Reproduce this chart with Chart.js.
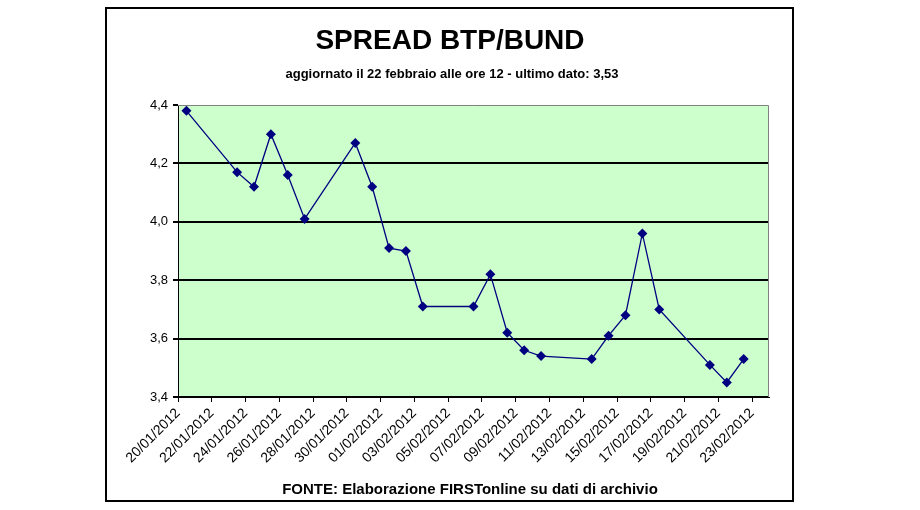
<!DOCTYPE html>
<html>
<head>
<meta charset="utf-8">
<script src="https://cdn.jsdelivr.net/npm/chart.js@4.4.1/dist/chart.umd.min.js"></script>
<style>
  html, body { margin: 0; padding: 0; background: #ffffff; }
  #wrap { position: relative; width: 920px; height: 510px; }
</style>
</head>
<body>
<div id="wrap"><canvas id="c" width="920" height="510"></canvas></div>
<script>
// ---- data ----
const dates = ['20/01/2012','23/01/2012','24/01/2012','25/01/2012','26/01/2012','27/01/2012',
  '30/01/2012','31/01/2012','01/02/2012','02/02/2012','03/02/2012','06/02/2012','07/02/2012',
  '08/02/2012','09/02/2012','10/02/2012','13/02/2012','14/02/2012','15/02/2012','16/02/2012',
  '17/02/2012','20/02/2012','21/02/2012','22/02/2012'];
const spread = [4.38,4.17,4.12,4.30,4.16,4.01,4.27,4.12,3.91,3.90,3.71,3.71,3.82,3.62,3.56,3.54,
  3.53,3.61,3.68,3.96,3.70,3.51,3.45,3.53];
const xTickLabels = ['20/01/2012','22/01/2012','24/01/2012','26/01/2012','28/01/2012','30/01/2012',
  '01/02/2012','03/02/2012','05/02/2012','07/02/2012','09/02/2012','11/02/2012','13/02/2012',
  '15/02/2012','17/02/2012','19/02/2012','21/02/2012','23/02/2012'];
const axisEnd = '23/02/2012';
const titleText = 'SPREAD BTP/BUND';
const subtitleText = 'aggiornato il 22 febbraio alle ore 12 - ultimo dato: 3,53';
const footerText = 'FONTE: Elaborazione FIRSTonline su dati di archivio';

// ---- helpers ----
function dayIndex(s) {
  const [d, m, y] = s.split('/').map(Number);
  const [d0, m0, y0] = dates[0].split('/').map(Number);
  return Math.round((Date.UTC(y, m - 1, d) - Date.UTC(y0, m0 - 1, d0)) / 86400000);
}
const points = dates.map((d, i) => ({ x: dayIndex(d), y: spread[i] }));
const tickVals = xTickLabels.map(l => dayIndex(l) - 0.5);

const decorPlugin = {
  id: 'decor',
  beforeDraw(chart) {
    const { ctx, chartArea: a } = chart;
    ctx.save();
    ctx.fillStyle = '#ccffcc';
    ctx.fillRect(a.left, a.top, a.right - a.left, a.bottom - a.top);
    ctx.restore();
  },
  afterDraw(chart) {
    const { ctx, chartArea: a } = chart;
    ctx.save();
    // plot border top/right
    ctx.strokeStyle = '#808080';
    ctx.lineWidth = 1;
    ctx.beginPath();
    ctx.moveTo(a.left, a.top + 0.5);
    ctx.lineTo(a.right - 0.5, a.top + 0.5);
    ctx.lineTo(a.right - 0.5, a.bottom);
    ctx.stroke();
    // outer frame
    ctx.strokeStyle = '#000000';
    ctx.lineWidth = 2;
    ctx.strokeRect(106, 8, 687, 493);
    // texts
    ctx.fillStyle = '#000000';
    ctx.textAlign = 'center';
    ctx.textBaseline = 'middle';
    ctx.font = 'bold 28px "Liberation Sans", Arial, sans-serif';
    ctx.fillText(titleText, 450, 41);
    ctx.font = 'bold 13px "Liberation Sans", Arial, sans-serif';
    ctx.fillText(subtitleText, 452, 74);
    ctx.font = 'bold 15px "Liberation Sans", Arial, sans-serif';
    ctx.fillText(footerText, 470, 490);
    ctx.restore();
  }
};

new Chart(document.getElementById('c'), {
  type: 'line',
  data: {
    datasets: [{
      data: points,
      borderColor: '#000080',
      backgroundColor: '#000080',
      borderWidth: 1.3,
      pointStyle: 'rectRot',
      pointRadius: 5,
      pointHoverRadius: 5,
      pointBorderWidth: 0,
      tension: 0,
      fill: false
    }]
  },
  options: {
    responsive: false,
    animation: false,
    events: [],
    layout: { padding: { left: 138, right: 151, top: 105, bottom: 23 } },
    plugins: { legend: { display: false }, tooltip: { enabled: false }, title: { display: false } },
    scales: {
      x: {
        type: 'linear',
        min: -0.5,
        max: dayIndex(axisEnd) + 0.5,
        afterBuildTicks(scale) { scale.ticks = tickVals.map(v => ({ value: v })); },
        afterFit(scale) { scale.height = 90; },
        ticks: {
          autoSkip: false,
          maxRotation: 45,
          minRotation: 45,
          color: '#000000',
          padding: 3,
          font: { family: '"Liberation Sans", Arial, sans-serif', size: 14 },
          callback(v, i) { return xTickLabels[i]; }
        },
        grid: { drawOnChartArea: false, drawTicks: true, tickLength: 5, color: '#000000' },
        border: { color: '#000000', width: 1 }
      },
      y: {
        min: 3.4,
        max: 4.4,
        afterFit(scale) { scale.width = 40; },
        ticks: {
          stepSize: 0.2,
          color: '#000000',
          padding: 5,
          font: { family: '"Liberation Sans", Arial, sans-serif', size: 13 },
          callback(v) { return v.toFixed(1).replace('.', ','); }
        },
        grid: {
          drawTicks: true,
          tickLength: 5,
          lineWidth: 2,
          color(c) { return Math.abs(c.tick.value - 4.4) < 1e-6 ? 'rgba(0,0,0,0)' : '#000000'; },
          tickColor: '#000000'
        },
        border: { color: '#000000', width: 1 }
      }
    }
  },
  plugins: [decorPlugin]
});
</script>
</body>
</html>
